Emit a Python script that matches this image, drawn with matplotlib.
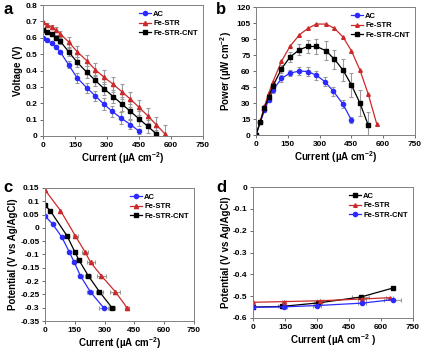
import matplotlib
matplotlib.use("Agg")
import matplotlib.pyplot as plt

plt.rcParams['font.family'] = ['Liberation Sans', 'DejaVu Sans']
plt.rcParams['font.weight'] = 'bold'
plt.rcParams['mathtext.fontset'] = 'custom'
plt.rcParams['mathtext.bf'] = 'Liberation Sans:bold'
plt.rcParams['mathtext.rm'] = 'Liberation Sans:bold'
plt.rcParams['mathtext.default'] = 'bf'

# ---- Panel a: polarization (voltage vs current)
a_ac_x = [0, 20, 40, 60, 80, 120, 160, 205, 245, 285, 325, 365, 410, 450]
a_ac_y = [0.60, 0.585, 0.567, 0.545, 0.515, 0.435, 0.355, 0.295, 0.245, 0.195, 0.15, 0.11, 0.07, 0.03]
a_ac_e = [0.005, 0.005, 0.006, 0.008, 0.01, 0.02, 0.03, 0.03, 0.03, 0.035, 0.035, 0.035, 0.025, 0.015]
a_fs_x = [0, 20, 40, 60, 80, 120, 160, 205, 245, 285, 330, 370, 410, 450, 490, 530, 570]
a_fs_y = [0.695, 0.68, 0.665, 0.648, 0.625, 0.575, 0.515, 0.46, 0.405, 0.36, 0.315, 0.27, 0.225, 0.175, 0.125, 0.07, 0.015]
a_fs_e = [0.01, 0.01, 0.012, 0.015, 0.018, 0.03, 0.035, 0.035, 0.04, 0.045, 0.045, 0.045, 0.045, 0.045, 0.045, 0.045, 0.05]
a_fc_x = [0, 20, 40, 60, 80, 120, 160, 205, 245, 285, 330, 370, 410, 450, 490, 530]
a_fc_y = [0.645, 0.635, 0.62, 0.60, 0.58, 0.515, 0.45, 0.39, 0.34, 0.29, 0.24, 0.195, 0.15, 0.105, 0.06, 0.015]
a_fc_e = [0.01, 0.01, 0.012, 0.015, 0.018, 0.025, 0.03, 0.035, 0.035, 0.04, 0.04, 0.045, 0.045, 0.045, 0.04, 0.02]

# ---- Panel b: power density
b_ac_y = [0, 12, 23, 33, 42, 53, 58, 60, 59.5, 56, 50, 41, 29, 14]
b_ac_e = [0, 1, 1.5, 2, 2.5, 3, 3, 4, 4, 4, 4, 4, 4, 3]
b_fs_y = [0, 13, 27, 39, 50, 69, 83, 94, 100, 104, 104, 100, 92, 79, 61, 38, 10]
b_fc_y = [0, 12.5, 25, 36, 46, 62, 73, 80, 83, 83, 79, 71, 61, 47, 30, 9]
b_fc_e = [0, 1, 1.5, 2, 3, 4, 5, 5, 6, 7, 9, 9, 10, 11, 12, 13]

# ---- Panel c: cathode potential
c_ac_x = [0, 38, 85, 122, 148, 178, 228, 295]
c_ac_y = [0.045, 0.015, -0.035, -0.09, -0.13, -0.18, -0.24, -0.30]
c_ac_e = [0, 0, 5, 8, 10, 12, 15, 22]
c_fs_x = [0, 78, 153, 201, 230, 284, 354, 413]
c_fs_y = [0.143, 0.065, -0.03, -0.09, -0.13, -0.18, -0.24, -0.30]
c_fs_e = [0, 5, 12, 15, 20, 22, 25, 10]
c_fc_x = [0, 26, 111, 150, 170, 218, 274, 337]
c_fc_y = [0.085, 0.065, -0.03, -0.09, -0.12, -0.18, -0.24, -0.30]
c_fc_e = [0, 4, 8, 10, 12, 15, 18, 15]

# ---- Panel d: anode potential
d_ac_x = [0, 135, 305, 505, 655]
d_ac_y = [-0.55, -0.547, -0.531, -0.504, -0.463]
d_ac_e = [0, 20, 20, 40, 0]
d_fs_x = [0, 145, 315, 510, 640]
d_fs_y = [-0.528, -0.525, -0.521, -0.513, -0.507]
d_fs_e = [0, 10, 15, 20, 15]
d_fc_x = [0, 145, 300, 510, 655]
d_fc_y = [-0.551, -0.549, -0.543, -0.532, -0.516]
d_fc_e = [0, 15, 20, 20, 40]

labels = ['AC', 'Fe-STR', 'Fe-STR-CNT']
xticks = [0, 150, 300, 450, 600, 750]

BLUE = '#2b2bff'
RED = '#cc2a2a'
BLACK = '#000000'
GRAY = '#9a9a9a'

W, H = 425, 351
fig = plt.figure(figsize=(W / 100, H / 100), dpi=100)


def make_ax(l, r, t, b):
    return fig.add_axes([l / W, 1 - b / H, (r - l) / W, (b - t) / H])


def style(ax, xlim, ylim, yticks, ylabel, xlabel, yfmt):
    ax.set_xlim(*xlim)
    ax.set_ylim(*ylim)
    ax.set_xticks(xticks)
    ax.set_xticklabels([str(v) for v in xticks])
    ax.set_yticks(yticks)
    ax.set_yticklabels([yfmt(v) for v in yticks])
    ax.tick_params(labelsize=6, length=2.5, width=0.6, pad=1.5, color='#555555')
    for lab in ax.get_xticklabels() + ax.get_yticklabels():
        lab.set_fontweight('bold')
    for s in ax.spines.values():
        s.set_color('#808080')
        s.set_linewidth(0.7)
    ax.set_ylabel(ylabel, fontsize=7, fontweight='bold', labelpad=1.5)
    ax.set_xlabel(xlabel, fontsize=7, fontweight='bold', labelpad=1)


def plot_series(ax, x, y, color, marker, label, yerr=None, xerr=None, ms=3.0):
    if yerr is not None or xerr is not None:
        ax.errorbar(x, y, yerr=yerr, xerr=xerr, fmt='none', ecolor=GRAY,
                    elinewidth=0.8, capsize=1.5, capthick=0.8, zorder=1)
    ax.plot(x, y, color=color, marker=marker, ms=ms, lw=0.9, label=label, zorder=2)


def legend(ax):
    leg = ax.legend(loc='upper right', frameon=False, handlelength=1.5,
                    handletextpad=0.3, labelspacing=0.3, borderaxespad=0.3,
                    prop={'weight': 'bold', 'size': 5.5})
    return leg


xlab = 'Current (µA cm$^{-2}$)'

# a
ax = make_ax(43, 203, 5, 136)
plot_series(ax, a_ac_x, a_ac_y, BLUE, 'o', labels[0], yerr=a_ac_e)
plot_series(ax, a_fs_x, a_fs_y, RED, '^', labels[1], yerr=a_fs_e)
plot_series(ax, a_fc_x, a_fc_y, BLACK, 's', labels[2], yerr=a_fc_e)
style(ax, (0, 750), (0, 0.8), [0, 0.1, 0.2, 0.3, 0.4, 0.5, 0.6, 0.7, 0.8],
      'Voltage (V)', xlab, lambda v: '0' if v == 0 else f'{v:g}')
legend(ax)

# b
ax = make_ax(256, 415, 7, 135)
plot_series(ax, a_ac_x, b_ac_y, BLUE, 'o', labels[0], yerr=b_ac_e)
plot_series(ax, a_fs_x, b_fs_y, RED, '^', labels[1], ms=2.6)
plot_series(ax, a_fc_x, b_fc_y, BLACK, 's', labels[2], yerr=b_fc_e, ms=2.2)
style(ax, (0, 750), (0, 120), list(range(0, 121, 15)),
      'Power (µW cm$^{-2}$)', xlab, lambda v: f'{v:g}')
legend(ax)

# c
ax = make_ax(45, 194, 188, 321)
plot_series(ax, c_ac_x, c_ac_y, BLUE, 'o', labels[0], xerr=c_ac_e)
plot_series(ax, c_fs_x, c_fs_y, RED, '^', labels[1], xerr=c_fs_e)
plot_series(ax, c_fc_x, c_fc_y, BLACK, 's', labels[2], xerr=c_fc_e)
cy = [0.15, 0.1, 0.05, 0, -0.05, -0.1, -0.15, -0.2, -0.25, -0.3, -0.35]
style(ax, (0, 750), (-0.35, 0.15), cy,
      'Potential (V vs Ag/AgCl)', xlab, lambda v: '0' if abs(v) < 1e-9 else f'{v:g}')
legend(ax)

# d
ax = make_ax(253, 413, 187, 318)
plot_series(ax, d_ac_x, d_ac_y, BLACK, 's', labels[0], xerr=d_ac_e, ms=2.4)
plot_series(ax, d_fs_x, d_fs_y, RED, '^', labels[1], xerr=d_fs_e, ms=2.6)
plot_series(ax, d_fc_x, d_fc_y, BLUE, 'o', labels[2], xerr=d_fc_e)
dy = [0, -0.1, -0.2, -0.3, -0.4, -0.5, -0.6]
style(ax, (0, 750), (-0.6, 0), dy,
      'Potential (V vs Ag/AgCl)', 'Current (µA cm$^{-2}$ )',
      lambda v: '0' if abs(v) < 1e-9 else f'{v:g}')
legend(ax)

for txt, x, y in [('a', 3, 2), ('b', 216, 2), ('c', 3, 180), ('d', 216, 180)]:
    fig.text(x / W, 1 - y / H, txt, fontsize=12, fontweight='bold', va='top', ha='left')

fig.savefig('out.png', dpi=100)
